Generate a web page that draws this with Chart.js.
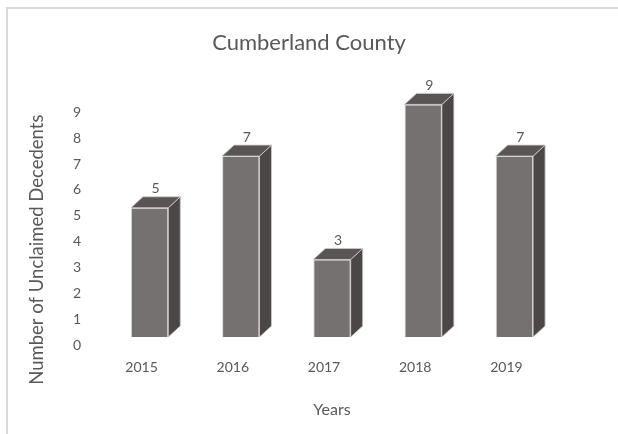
<!DOCTYPE html>
<html>
<head>
<meta charset="utf-8">
<script src="https://cdn.jsdelivr.net/npm/chart.js@4.4.1/dist/chart.umd.min.js"></script>
<style>
    body { margin: 0; background: #fff; }
    #wrap { position: relative; width: 618px; height: 434px; }
    #frame {
        position: absolute; left: 6px; top: 7px; right: 0; bottom: 0;
        border-top: 2px solid #d9d9d9; border-left: 2px solid #d9d9d9;
        pointer-events: none;
    }
</style>
</head>
<body>
<div id="wrap">
    <canvas id="countyChart" width="618" height="434"></canvas>
    <div id="frame"></div>
</div>
<script>
// Chart data
let years = ['2015', '2016', '2017', '2018', '2019'];
let decedents = [5, 7, 3, 9, 7];
let yTicks = [0, 1, 2, 3, 4, 5, 6, 7, 8, 9];

let fontName = 'Lato, "Open Sans", sans-serif';
let textGrey = '#595959';

// 3D depth of the boxes
const depthX = 12;
const depthY = 11;

// Draws the top and side faces plus the value labels
const boxPlugin = {
    id: 'boxes',
    afterDatasetsDraw(chart) {
        let ctx = chart.ctx;
        let meta = chart.getDatasetMeta(0);
        ctx.save();
        meta.data.forEach((bar, i) => {
            let left = bar.x - bar.width / 2;
            let right = bar.x + bar.width / 2;
            let top = bar.y;
            let base = bar.base;

            // side face
            ctx.beginPath();
            ctx.moveTo(right, top);
            ctx.lineTo(right + depthX, top - depthY);
            ctx.lineTo(right + depthX, base - depthY);
            ctx.lineTo(right, base);
            ctx.closePath();
            ctx.fillStyle = '#4b4747';
            ctx.fill();
            ctx.strokeStyle = 'rgba(205,205,205,0.8)';
            ctx.lineWidth = 1;
            ctx.stroke();

            // top face
            ctx.beginPath();
            ctx.moveTo(left, top);
            ctx.lineTo(left + depthX, top - depthY);
            ctx.lineTo(right + depthX, top - depthY);
            ctx.lineTo(right, top);
            ctx.closePath();
            ctx.fillStyle = '#595554';
            ctx.fill();
            ctx.stroke();

            // value label
            ctx.fillStyle = textGrey;
            ctx.font = '14px ' + fontName;
            ctx.textAlign = 'center';
            ctx.textBaseline = 'middle';
            ctx.fillText(decedents[i], bar.x + depthX / 2, top - depthY - 8);
        });

        // y axis title
        let area = chart.chartArea;
        ctx.translate(37, (area.top + area.bottom) / 2 + 29);
        ctx.rotate(-Math.PI / 2);
        ctx.font = '18.5px ' + fontName;
        ctx.fillStyle = textGrey;
        ctx.textAlign = 'center';
        ctx.textBaseline = 'middle';
        ctx.fillText('Number of Unclaimed Decedents', 0, 0);
        ctx.restore();
    }
};

let ctx = document.getElementById('countyChart');
let myChart = new Chart(ctx, {
    type: 'bar',
    data: {
        labels: years,
        datasets: [{
            label: 'Decedents',
            data: decedents,
            backgroundColor: '#767171',
            borderColor: 'rgba(205,205,205,0.8)',
            borderWidth: 1,
            barPercentage: 0.41,
            categoryPercentage: 1
        }]
    },
    options: {
        responsive: false,
        animation: false,
        layout: {
            padding: { left: 0, right: 0, top: 0, bottom: 15 }
        },
        plugins: {
            legend: { display: false },
            tooltip: { enabled: false },
            title: {
                display: true,
                text: 'Cumberland County',
                color: textGrey,
                font: { family: fontName, size: 22, weight: 'normal' },
                padding: { top: 30, bottom: 48 }
            }
        },
        scales: {
            x: {
                grid: { display: false, drawTicks: false },
                border: { display: false },
                ticks: {
                    color: textGrey,
                    font: { family: fontName, size: 14 },
                    padding: 22,
                    labelOffset: -8
                },
                title: {
                    display: true,
                    text: 'Years',
                    color: textGrey,
                    font: { family: fontName, size: 16 },
                    padding: { top: 2, bottom: 0 }
                }
            },
            y: {
                min: 0,
                max: 9,
                afterFit: (scale) => { scale.width = 104; },
                afterBuildTicks: (scale) => {
                    scale.ticks = yTicks.map(v => ({ value: v }));
                },
                grid: { display: false, drawTicks: false },
                border: { display: false },
                ticks: {
                    color: textGrey,
                    font: { family: fontName, size: 14 },
                    padding: 23,
                    labelOffset: 8
                }
            },
            // empty right axis, only keeps room on the right side
            yRight: {
                position: 'right',
                min: 0,
                max: 9,
                afterFit: (scale) => { scale.width = 58; },
                grid: { display: false, drawTicks: false },
                border: { display: false },
                ticks: { display: false }
            }
        }
    },
    plugins: [boxPlugin]
});
</script>
</body>
</html>
